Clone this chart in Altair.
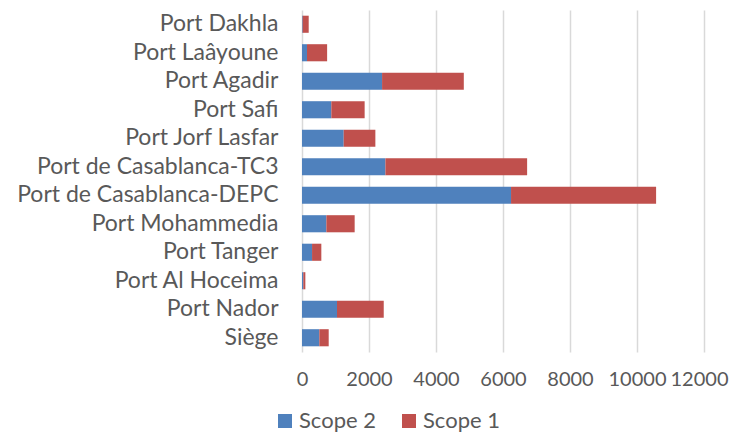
import altair as alt
import pandas as pd

ports = ["Port Dakhla", "Port Laâyoune", "Port Agadir", "Port Safi", "Port Jorf Lasfar",
         "Port de Casablanca-TC3", "Port de Casablanca-DEPC", "Port Mohammedia",
         "Port Tanger", "Port Al Hoceima", "Port Nador", "Siège"]
scope2 = [20, 150, 2390, 875, 1245, 2490, 6240, 727, 300, 40, 1045, 517]
scope1 = [180, 600, 2440, 995, 945, 4230, 4330, 845, 277, 60, 1395, 280]
series = ["Scope 2", "Scope 1"]
colors = ["#4F81BD", "#C0504D"]
x_ticks = [0, 2000, 4000, 6000, 8000, 10000, 12000]

rows = []
for p, s2, s1 in zip(ports, scope2, scope1):
    rows.append({"port": p, "series": "Scope 2", "value": s2, "ord": 0})
    rows.append({"port": p, "series": "Scope 1", "value": s1, "ord": 1})
df = pd.DataFrame(rows)

FONT = "Lato"

chart = alt.Chart(df).mark_bar().encode(
    y=alt.Y("port:N", sort=ports, title=None,
            scale=alt.Scale(paddingInner=0.4, paddingOuter=0.2),
            axis=alt.Axis(labelFontSize=23, labelColor="#595959", labelFont=FONT,
                          ticks=False, domain=False, labelPadding=24, labelLimit=400)),
    x=alt.X("value:Q", stack="zero", title=None,
            scale=alt.Scale(domain=[0, 12000], nice=False),
            axis=alt.Axis(values=x_ticks, format="d", labelFontSize=20, labelColor="#595959",
                          labelFont=FONT, ticks=False, domain=False, labelPadding=17,
                          labelOverlap=False, labelBound=False, labelFlush=False,
                          labelOffset={"condition": {"test": "datum.value == 12000", "value": -5},
                                       "value": 0},
                          grid=True, gridColor="#D9D9D9", gridWidth=1.5)),
    color=alt.Color("series:N", scale=alt.Scale(domain=series, range=colors),
                    legend=alt.Legend(title=None, orient="none", direction="horizontal",
                                      legendX=-28, legendY=400, symbolType="square",
                                      symbolSize=196, symbolStrokeWidth=0, labelOffset=3,
                                      labelFontSize=22, labelColor="#595959", labelFont=FONT,
                                      columnPadding=22)),
    order=alt.Order("ord:Q"),
).properties(
    width=402, height=342,
    autosize=alt.AutoSizeParams(type="none"),
    padding={"left": 294, "top": 2, "right": 27, "bottom": 80},
).configure_view(stroke=None)

chart.save("out.html", embed_options={"renderer": "svg", "actions": False})
